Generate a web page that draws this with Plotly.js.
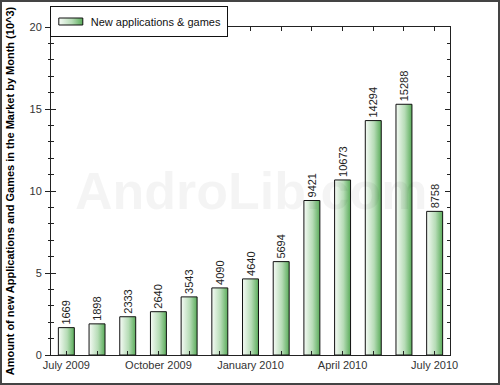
<!DOCTYPE html>
<html><head><meta charset="utf-8">
<script src="https://cdn.plot.ly/plotly-3.0.1.min.js"></script>
<style>
html,body{margin:0;padding:0;background:#fff;}
#wrap{position:relative;width:500px;height:385px;}
#chart{width:500px;height:385px;}
#frame{position:absolute;left:0;top:0;width:500px;height:385px;box-sizing:border-box;border:2px solid #444;pointer-events:none;}
</style></head>
<body>
<div id="wrap"><div id="chart"></div><div id="frame"></div></div>
<script>
const months = ["2009-07","2009-08","2009-09","2009-10","2009-11","2009-12","2010-01","2010-02","2010-03","2010-04","2010-05","2010-06","2010-07"];
const counts = [1669,1898,2333,2640,3543,4090,4640,5694,9421,10673,14294,15288,8758];
const tickText = ["July 2009","","","October 2009","","","January 2010","","","April 2010","","","July 2010"];
const seriesName = "New applications & games";
const yTitle = "Amount of new Applications and Games in the Market by Month (10^3)";
const watermark = "AndroLib.com";

const yVals = counts.map(v => v / 1000);
const FONT = "Liberation Sans, Arial, sans-serif";

const data = [{
  type: "bar",
  x: months,
  y: yVals,
  name: seriesName,
  text: counts.map(String),
  textposition: "outside",
  textangle: -90,
  constraintext: "none",
  cliponaxis: false,
  textfont: {family: FONT, size: 11, color: "#222"},
  marker: {color: "#8fcc8f", line: {color: "#111", width: 1}},
  width: 0.52,
  hoverinfo: "none"
}, {
  type: "scatter", x: [], y: [], xaxis: "x2", yaxis: "y2", showlegend: false, hoverinfo: "none"
}];

const layout = {
  width: 500, height: 385,
  margin: {l: 51, r: 50, t: 27, b: 30, autoexpand: false},
  paper_bgcolor: "#fff", plot_bgcolor: "#fff",
  font: {family: FONT, size: 11, color: "#333"},
  showlegend: true,
  legend: {x: -0.003, y: 1.064, xanchor: "left", yanchor: "top", orientation: "h",
           bordercolor: "#111", borderwidth: 1, bgcolor: "#fff",
           font: {family: FONT, size: 11, color: "#111"}},
  xaxis: {type: "category", range: [-0.5, 12.5], tickmode: "array", tickvals: months, ticktext: tickText,
          ticks: "inside", ticklen: 4, tickcolor: "#222", showline: true, linecolor: "#222", linewidth: 1,
          mirror: "ticks", showgrid: false, zeroline: false, tickfont: {family: FONT, size: 11, color: "#333"}, fixedrange: true},
  xaxis2: {type: "category", overlaying: "x", anchor: "y", side: "bottom", range: [-0.5, 12.5],
           tickmode: "array", tickvals: months, ticktext: months.map(() => ""),
           ticks: "outside", ticklen: 5, tickcolor: "#222", showline: false, showgrid: false, zeroline: false, showticklabels: false},
  yaxis: {range: [0, 20], dtick: 5, ticks: "inside", ticklen: 5, tickcolor: "#222",
          minor: {dtick: 1, ticks: "inside", ticklen: 3, tickcolor: "#222"},
          showline: true, linecolor: "#222", linewidth: 1, mirror: "ticks",
          showgrid: false, zeroline: false, ticklabelstandoff: 6,
          tickfont: {family: FONT, size: 11, color: "#333"},
          title: {text: "<b>" + yTitle + "</b>", font: {family: FONT, size: 11, color: "#000"}, standoff: 12}},
  yaxis2: {range: [0, 20], overlaying: "y", anchor: "x", side: "left", dtick: 5, ticks: "outside", ticklen: 5, tickcolor: "#222",
           minor: {dtick: 1, ticks: "outside", ticklen: 2, tickcolor: "#222"},
           showline: false, showgrid: false, zeroline: false, showticklabels: false},
  annotations: [{text: "<b>" + watermark + "</b>", xref: "paper", yref: "paper", x: 0.5, y: 0.5,
                 showarrow: false, font: {family: FONT, size: 52, color: "rgba(0,0,0,0.045)"}}]
};

Plotly.newPlot("chart", data, layout, {staticPlot: true, displayModeBar: false}).then(gd => {
  const svg = gd.querySelector("svg.main-svg");
  const ns = "http://www.w3.org/2000/svg";
  let defs = svg.querySelector("defs");
  if (!defs) { defs = document.createElementNS(ns, "defs"); svg.insertBefore(defs, svg.firstChild); }
  const g = document.createElementNS(ns, "linearGradient");
  g.setAttribute("id", "barGrad");
  g.setAttribute("x1", "0"); g.setAttribute("y1", "0"); g.setAttribute("x2", "1"); g.setAttribute("y2", "0");
  [["0", "#f6fbf6"], ["0.55", "#b6dcb6"], ["1", "#5aac5a"]].forEach(([o, c]) => {
    const s = document.createElementNS(ns, "stop"); s.setAttribute("offset", o); s.setAttribute("stop-color", c); g.appendChild(s);
  });
  defs.appendChild(g);
  gd.querySelectorAll(".barlayer .point path").forEach(p => { p.style.fill = "url(#barGrad)"; });
  gd.querySelectorAll(".legend .legendpoints path").forEach(p => {
    p.setAttribute("d", "M12,3.5H-12V-3.5H12Z");
    p.style.fill = "url(#barGrad)";
  });
});
</script>
</body></html>
